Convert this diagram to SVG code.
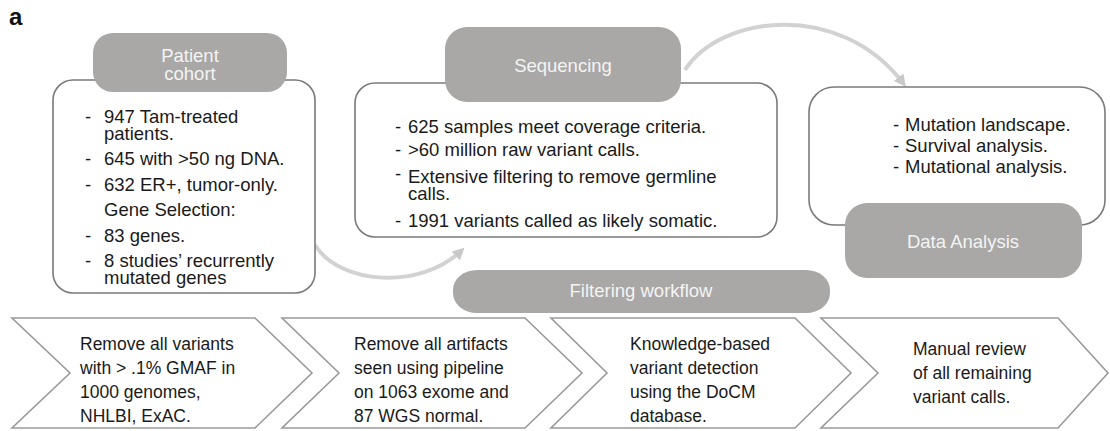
<svg xmlns="http://www.w3.org/2000/svg" width="1110" height="431" viewBox="0 0 1110 431">
<defs>
<style>
.box{fill:#fff;stroke:#7a7a7a;stroke-width:1.6}
.pill{fill:#a9a8a7;stroke:none}
.pt{font-family:"Liberation Sans",Arial,sans-serif;font-size:18.5px;fill:#f4f4f4;text-anchor:middle}
.t{font-family:"Liberation Sans",Arial,sans-serif;font-size:18.5px;fill:#1a1a1a}
.ct{font-family:"Liberation Sans",Arial,sans-serif;font-size:17.5px;fill:#1a1a1a}
.chev{fill:#fff;stroke:#9a9a9a;stroke-width:1.6}
.conn{fill:none;stroke:#d2d2d2;stroke-width:4}
</style>
<marker id="ah" viewBox="0 0 10 10" refX="6" refY="5" markerWidth="3" markerHeight="3" orient="auto" markerUnits="strokeWidth">
<path d="M0,0 L10,5 L0,10 z" fill="#c8c8c8"/>
</marker>
</defs>
<rect width="1110" height="431" fill="#fff"/>
<text x="9" y="25" font-family="Liberation Sans,Arial,sans-serif" font-size="24" font-weight="bold" fill="#111">a</text>

<g id="connectors">
<path class="conn" d="M315,245 C340,285 420,290 461,251" marker-end="url(#ah)"/>
<path class="conn" d="M685,70 C720,15 840,0 903,83" marker-end="url(#ah)"/>
</g>

<g id="patient-cohort">
<rect class="box" x="53" y="80" width="262" height="213" rx="20"/>
<rect class="pill" x="93" y="33" width="194" height="59" rx="20"/>
<text class="pt" x="190" y="62">Patient</text>
<text class="pt" x="190" y="80">cohort</text>
<text class="t" x="85" y="123">-</text><text class="t" x="104" y="123">947 Tam-treated</text>
<text class="t" x="104" y="140">patients.</text>
<text class="t" x="85" y="165">-</text><text class="t" x="104" y="165">645 with &gt;50 ng DNA.</text>
<text class="t" x="85" y="191">-</text><text class="t" x="104" y="191">632 ER+, tumor-only.</text>
<text class="t" x="104" y="216">Gene Selection:</text>
<text class="t" x="85" y="242">-</text><text class="t" x="104" y="242">83 genes.</text>
<text class="t" x="85" y="267">-</text><text class="t" x="104" y="267">8 studies’ recurrently</text>
<text class="t" x="104" y="284">mutated genes</text>
</g>

<g id="sequencing">
<rect class="box" x="355" y="83" width="422" height="154" rx="20"/>
<rect class="pill" x="445" y="27" width="236" height="75" rx="22"/>
<text class="pt" x="563" y="72">Sequencing</text>
<text class="t" x="395" y="133">-</text><text class="t" x="408" y="133">625 samples meet coverage criteria.</text>
<text class="t" x="395" y="156">-</text><text class="t" x="408" y="156">&gt;60 million raw variant calls.</text>
<text class="t" x="395" y="180">-</text><text class="t" x="408" y="183">Extensive filtering to remove germline</text>
<text class="t" x="408" y="200">calls.</text>
<text class="t" x="395" y="227">-</text><text class="t" x="408" y="227">1991 variants called as likely somatic.</text>
</g>

<g id="data-analysis">
<rect class="box" x="809" y="87" width="296" height="138" rx="25"/>
<rect class="pill" x="845" y="203" width="237" height="75" rx="22"/>
<text class="pt" x="963" y="248">Data Analysis</text>
<text class="t" x="893" y="131">-</text><text class="t" x="905" y="131">Mutation landscape.</text>
<text class="t" x="893" y="152">-</text><text class="t" x="905" y="152">Survival analysis.</text>
<text class="t" x="893" y="173">-</text><text class="t" x="905" y="173">Mutational analysis.</text>
</g>

<g id="filtering-workflow">
<rect class="pill" x="453" y="270" width="377" height="43" rx="24" ry="20"/>
<text class="pt" x="641" y="297">Filtering workflow</text>
</g>

<g id="step1">
<path class="chev" d="M12,318 L255,318 L312,373 L255,428 L12,428 L70,373 Z"/>
<text class="ct" x="80" y="350">Remove all variants</text>
<text class="ct" x="80" y="374">with &gt; .1% GMAF in</text>
<text class="ct" x="80" y="398">1000 genomes,</text>
<text class="ct" x="80" y="422">NHLBI, ExAC.</text>
</g>

<g id="step2">
<path class="chev" d="M282,318 L525,318 L582,373 L525,428 L282,428 L339,373 Z"/>
<text class="ct" x="354" y="350">Remove all artifacts</text>
<text class="ct" x="354" y="374">seen using pipeline</text>
<text class="ct" x="354" y="398">on 1063 exome and</text>
<text class="ct" x="354" y="422">87 WGS normal.</text>
</g>

<g id="step3">
<path class="chev" d="M551,318 L795,318 L851,373 L795,428 L551,428 L607,373 Z"/>
<text class="ct" x="630" y="350">Knowledge-based</text>
<text class="ct" x="630" y="374">variant detection</text>
<text class="ct" x="630" y="398">using the DoCM</text>
<text class="ct" x="630" y="422">database.</text>
</g>

<g id="step4">
<path class="chev" d="M821,318 L1058,318 L1108,373 L1058,428 L821,428 L878,373 Z"/>
<text class="ct" x="913" y="355">Manual review</text>
<text class="ct" x="913" y="379">of all remaining</text>
<text class="ct" x="913" y="403">variant calls.</text>
</g>
</svg>
